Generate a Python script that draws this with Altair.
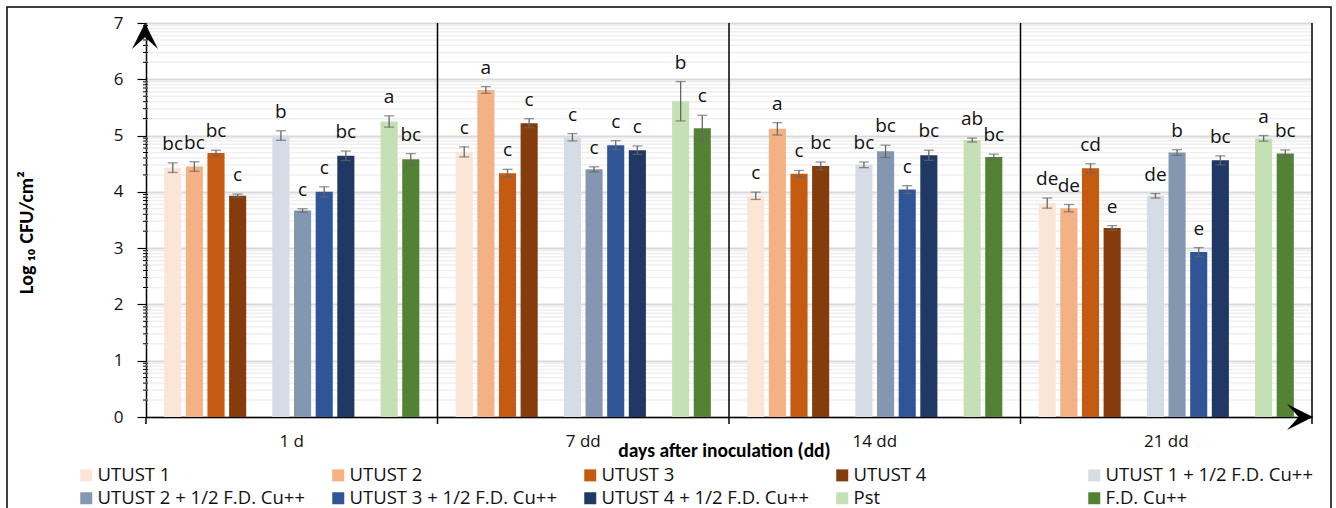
import math
import altair as alt
import pandas as pd

groups = ["1 d", "7 dd", "14 dd", "21 dd"]
series = ["UTUST 1", "UTUST 2", "UTUST 3", "UTUST 4",
          "UTUST 1 + 1/2 F.D. Cu++", "UTUST 2 + 1/2 F.D. Cu++",
          "UTUST 3 + 1/2 F.D. Cu++", "UTUST 4 + 1/2 F.D. Cu++",
          "Pst", "F.D. Cu++"]
colors = ["#FBE5D6", "#F4B183", "#C55A11", "#843C0C",
          "#D6DCE5", "#8497B0", "#2F5597", "#203864",
          "#C5E0B4", "#548235"]
# slot order inside each day group (two empty slots separate the families)
slots = series[:4] + ["_gap1"] + series[4:8] + ["_gap2"] + series[8:]

values_1d = [4.43, 4.45, 4.69, 3.93, 5.00, 3.67, 4.00, 4.64, 5.25, 4.58]
errors_1d = [0.085, 0.085, 0.05, 0.03, 0.085, 0.03, 0.09, 0.085, 0.10, 0.10]
letters_1d = ["bc", "bc", "bc", "c", "b", "c", "c", "bc", "a", "bc"]

values_7d = [4.71, 5.81, 4.33, 5.22, 4.97, 4.40, 4.83, 4.74, 5.61, 5.13]
errors_7d = [0.09, 0.06, 0.07, 0.08, 0.065, 0.045, 0.08, 0.075, 0.35, 0.23]
letters_7d = ["c", "a", "c", "c", "c", "c", "c", "c", "b", "c"]

values_14d = [3.93, 5.12, 4.32, 4.46, 4.48, 4.72, 4.04, 4.65, 4.92, 4.62]
errors_14d = [0.065, 0.11, 0.06, 0.07, 0.05, 0.11, 0.07, 0.09, 0.035, 0.05]
letters_14d = ["c", "a", "c", "bc", "bc", "bc", "c", "bc", "ab", "bc"]

values_21d = [3.80, 3.71, 4.42, 3.36, 3.93, 4.70, 2.93, 4.56, 4.95, 4.68]
errors_21d = [0.09, 0.065, 0.08, 0.04, 0.04, 0.05, 0.08, 0.08, 0.05, 0.065]
letters_21d = ["de", "de", "cd", "e", "de", "b", "e", "bc", "a", "bc"]

y_ticks = [0, 1, 2, 3, 4, 5, 6, 7]

rows = []
for g, vals, errs, lets in zip(
        groups,
        [values_1d, values_7d, values_14d, values_21d],
        [errors_1d, errors_7d, errors_14d, errors_21d],
        [letters_1d, letters_7d, letters_14d, letters_21d]):
    for s, v, e, l in zip(series, vals, errs, lets):
        rows.append({"group": g, "series": s, "value": v,
                     "lo": v - e, "hi": v + e, "letter": l})
df = pd.DataFrame(rows)
groups_df = pd.DataFrame({"group": groups})
# minor (log-style) grid positions inside every unit
minor_df = pd.DataFrame({"v": [n + math.log10(k) for n in range(7) for k in range(2, 10)]})
one = pd.DataFrame({"k": [0]})

W, H = 1166, 394
LAB_FONT = "Open Sans"
TITLE_FONT = "Carlito, Lato, sans-serif"

x_scale = alt.Scale(domain=groups, paddingInner=0, paddingOuter=0)
x_axis = alt.Axis(title="days after inoculation (dd)", labelAngle=0, ticks=False,
                  domainColor="black", domainWidth=1.5, labelFont=LAB_FONT,
                  labelFontSize=17, labelColor="#111", labelPadding=16,
                  titleFont=TITLE_FONT, titleFontSize=19.5, titleFontWeight="bold",
                  titleColor="black", titleY=33, titleX=578,
                  titleBaseline="middle", grid=False)
y_scale = alt.Scale(domain=[0, 7], nice=False)
y_axis = alt.Axis(title="Log ₁₀ CFU/cm²", values=y_ticks, format="d",
                  domainColor="black", domainWidth=1.5, tickColor="black",
                  tickSize=9, tickWidth=1.2, labelFont=LAB_FONT, labelFontSize=17,
                  labelColor="#111", labelPadding=14, grid=True,
                  gridColor="#d9d9d9", gridWidth=2,
                  titleFont=TITLE_FONT, titleFontSize=20, titleFontWeight="bold",
                  titleColor="black", titleX=-120, titleY=209,
                  titleBaseline="middle", titleAngle=-90)

X = alt.X("group:N", scale=x_scale, axis=x_axis, sort=groups)
XO = alt.XOffset("series:N", scale=alt.Scale(domain=slots, paddingInner=0.21,
                                             paddingOuter=0.84))
Y = alt.Y("value:Q", scale=y_scale, axis=y_axis)

minor_grid = alt.Chart(minor_df).mark_rule(color="#efefef", strokeWidth=1.5).encode(
    y=alt.Y("v:Q", scale=y_scale, axis=y_axis),
    x=alt.value(0), x2=alt.value(W))

bars = alt.Chart(df).mark_bar().encode(
    x=X, xOffset=XO, y=Y,
    color=alt.Color("series:N", scale=alt.Scale(domain=series, range=colors),
                    legend=alt.Legend(title=None, orient="none", legendX=-69,
                                      legendY=443, columns=5, direction="horizontal",
                                      gridAlign="all", labelLimit=400,
                                      columnPadding=24, rowPadding=4,
                                      symbolType="square", symbolSize=144,
                                      symbolStrokeWidth=0, labelFont=LAB_FONT,
                                      labelFontSize=18.5, labelColor="#111",
                                      labelOffset=2, padding=0)))

err = alt.Chart(df).mark_rule(color="#666", strokeWidth=1.3).encode(
    x=X, xOffset=XO, y=alt.Y("lo:Q", scale=y_scale, axis=y_axis), y2="hi:Q")
caps_hi = alt.Chart(df).mark_tick(color="#666", thickness=1.3, size=10,
                                  orient="horizontal").encode(
    x=X, xOffset=XO, y=alt.Y("hi:Q", scale=y_scale, axis=y_axis))
caps_lo = alt.Chart(df).mark_tick(color="#666", thickness=1.3, size=10,
                                  orient="horizontal").encode(
    x=X, xOffset=XO, y=alt.Y("lo:Q", scale=y_scale, axis=y_axis))

letters = alt.Chart(df).mark_text(baseline="alphabetic", dy=-13, fontSize=19,
                                  font=LAB_FONT, color="#111").encode(
    x=X, xOffset=XO, y=alt.Y("hi:Q", scale=y_scale, axis=y_axis), text="letter:N")

separators = alt.Chart(groups_df).mark_rule(color="black", strokeWidth=1.5).encode(
    x=alt.X("group:N", scale=x_scale, axis=x_axis, sort=groups, bandPosition=1),
    y=alt.datum(7), y2=alt.value(H + 7))

y_ext = alt.Chart(one).mark_rule(color="black", strokeWidth=1.5).encode(
    x=alt.value(0), y=alt.value(H), y2=alt.value(H + 7))

minor_ticks = alt.Chart(minor_df).mark_rule(color="black", strokeWidth=1).encode(
    y=alt.Y("v:Q", scale=y_scale, axis=y_axis), x=alt.value(-3), x2=alt.value(2))

up_arrow = alt.Chart(one).mark_point(
    shape="M0,0 L1,2 L0,1.1 L-1,2 Z", size=676, filled=True, fill="black",
    strokeWidth=0, opacity=1).encode(x=alt.value(-1), y=alt.datum(7))
right_arrow = alt.Chart(one).mark_point(
    shape="M0,0 L-2,-1 L-1.1,0 L-2,1 Z", size=676, filled=True, fill="black",
    strokeWidth=0, opacity=1).encode(x=alt.value(W + 1), y=alt.datum(0))

frame = alt.Chart(one).mark_rect(fillOpacity=0, stroke="black", strokeWidth=1.5).encode(
    x=alt.value(-139), x2=alt.value(1185), y=alt.value(-16), y2=alt.value(495))

chart = alt.layer(
    minor_grid, bars, err, caps_hi, caps_lo, letters, separators, y_ext,
    minor_ticks, up_arrow, right_arrow, frame
).properties(
    width=W, height=H,
    autosize=alt.AutoSizeParams(type="none"),
    padding={"left": 146, "top": 23, "right": 24, "bottom": 91},
    background="white",
).configure_view(strokeWidth=0)

chart.save("out.html", embed_options={"renderer": "svg", "actions": False})
